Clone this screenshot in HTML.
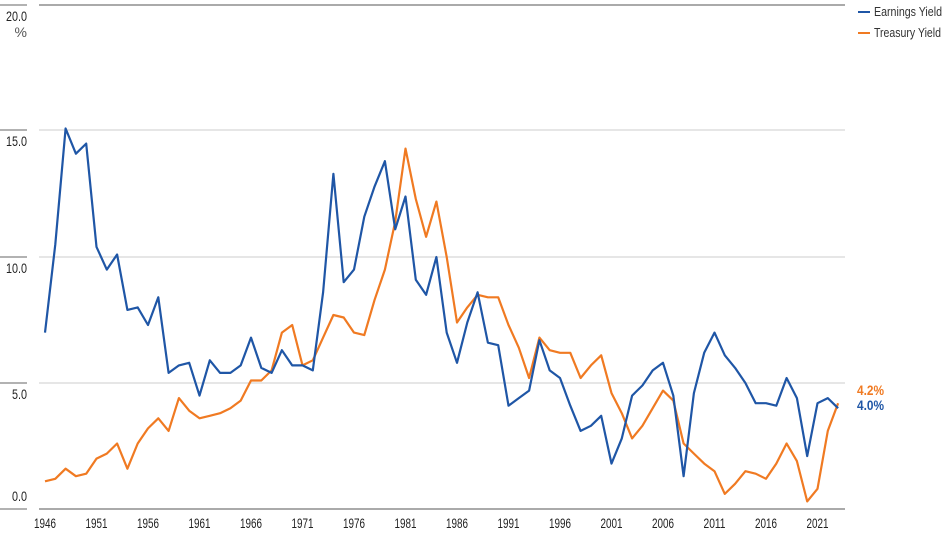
<!DOCTYPE html>
<html><head><meta charset="utf-8"><style>
body{margin:0;background:#fff;}
svg{display:block;font-family:"Liberation Sans",sans-serif;}
</style></head><body>
<svg id="c" width="948" height="533" xmlns="http://www.w3.org/2000/svg">
<g stroke="#ccc" stroke-width="1">
<line x1="39" x2="845" y1="5" y2="5" stroke="#aaa" stroke-width="2"/>
<line x1="39" x2="845" y1="130" y2="130"/>
<line x1="39" x2="845" y1="257" y2="257"/>
<line x1="39" x2="845" y1="383" y2="383"/>
</g>
<g stroke="#999" stroke-width="1.5">
<line x1="0" x2="27" y1="5" y2="5"/>
<line x1="0" x2="27" y1="130" y2="130"/>
<line x1="0" x2="27" y1="257" y2="257"/>
<line x1="0" x2="27" y1="383" y2="383"/>
<line x1="0" x2="27" y1="509" y2="509"/>
</g>
<line x1="39" x2="845" y1="509" y2="509" stroke="#aaa" stroke-width="2"/>
<g font-size="14" fill="#222" text-anchor="end">
<text x="27" y="21" textLength="21" lengthAdjust="spacingAndGlyphs">20.0</text>
<text x="27" y="37" fill="#555">%</text>
<text x="27" y="146" textLength="21" lengthAdjust="spacingAndGlyphs">15.0</text>
<text x="27" y="273" textLength="21" lengthAdjust="spacingAndGlyphs">10.0</text>
<text x="27" y="399" textLength="15" lengthAdjust="spacingAndGlyphs">5.0</text>
<text x="27" y="501" textLength="15" lengthAdjust="spacingAndGlyphs">0.0</text>
</g>
<g id="xt" font-size="14" fill="#222"></g>
<polyline id="ty" fill="none" stroke="#f07a22" stroke-width="2.2" stroke-linejoin="round"/>
<polyline id="ey" fill="none" stroke="#1f56a6" stroke-width="2.2" stroke-linejoin="round"/>
<line x1="858" x2="870" y1="12" y2="12" stroke="#1f56a6" stroke-width="2"/>
<line x1="858" x2="870" y1="33" y2="33" stroke="#f07a22" stroke-width="2"/>
<text x="874" y="16" font-size="12.5" fill="#333" textLength="68" lengthAdjust="spacingAndGlyphs">Earnings Yield</text>
<text x="874" y="37" font-size="12.5" fill="#333" textLength="67" lengthAdjust="spacingAndGlyphs">Treasury Yield</text>
<text x="857" y="395" font-size="14" font-weight="bold" fill="#f07a22" textLength="27" lengthAdjust="spacingAndGlyphs">4.2%</text>
<text x="857" y="410" font-size="14" font-weight="bold" fill="#1f56a6" textLength="27" lengthAdjust="spacingAndGlyphs">4.0%</text>
</svg>
<script>
var E=[7.0,10.5,15.1,14.1,14.5,10.4,9.5,10.1,7.9,8.0,7.3,8.4,5.4,5.7,5.8,4.5,5.9,5.4,5.4,5.7,6.8,5.6,5.4,6.3,5.7,5.7,5.5,8.6,13.3,9.0,9.5,11.6,12.8,13.8,11.1,12.4,9.1,8.5,10.0,7.0,5.8,7.4,8.6,6.6,6.5,4.1,4.4,4.7,6.7,5.5,5.2,4.1,3.1,3.3,3.7,1.8,2.8,4.5,4.9,5.5,5.8,4.5,1.3,4.6,6.2,7.0,6.1,5.6,5.0,4.2,4.2,4.1,5.2,4.4,2.1,4.2,4.4,4.0];
var T=[1.1,1.2,1.6,1.3,1.4,2.0,2.2,2.6,1.6,2.6,3.2,3.6,3.1,4.4,3.9,3.6,3.7,3.8,4.0,4.3,5.1,5.1,5.5,7.0,7.3,5.7,5.9,6.8,7.7,7.6,7.0,6.9,8.3,9.5,11.4,14.3,12.3,10.8,12.2,10.0,7.4,8.0,8.5,8.4,8.4,7.3,6.4,5.2,6.8,6.3,6.2,6.2,5.2,5.7,6.1,4.6,3.8,2.8,3.3,4.0,4.7,4.3,2.6,2.2,1.8,1.5,0.6,1.0,1.5,1.4,1.2,1.8,2.6,1.9,0.3,0.8,3.1,4.2];
function X(i){return 45+10.3*i;}function Y(v){return 509-25.2*v;}
function pts(a){return a.map(function(v,i){return X(i).toFixed(1)+","+Y(v).toFixed(1)}).join(" ");}
document.getElementById("ey").setAttribute("points",pts(E));
document.getElementById("ty").setAttribute("points",pts(T));
var g=document.getElementById("xt"),s="";
for(var y=1946;y<=2021;y+=5){s+='<text x="'+(X(y-1946)-11)+'" y="528" textLength="22" lengthAdjust="spacingAndGlyphs">'+y+'</text>';}
g.innerHTML=s;
</script>
</body></html>
